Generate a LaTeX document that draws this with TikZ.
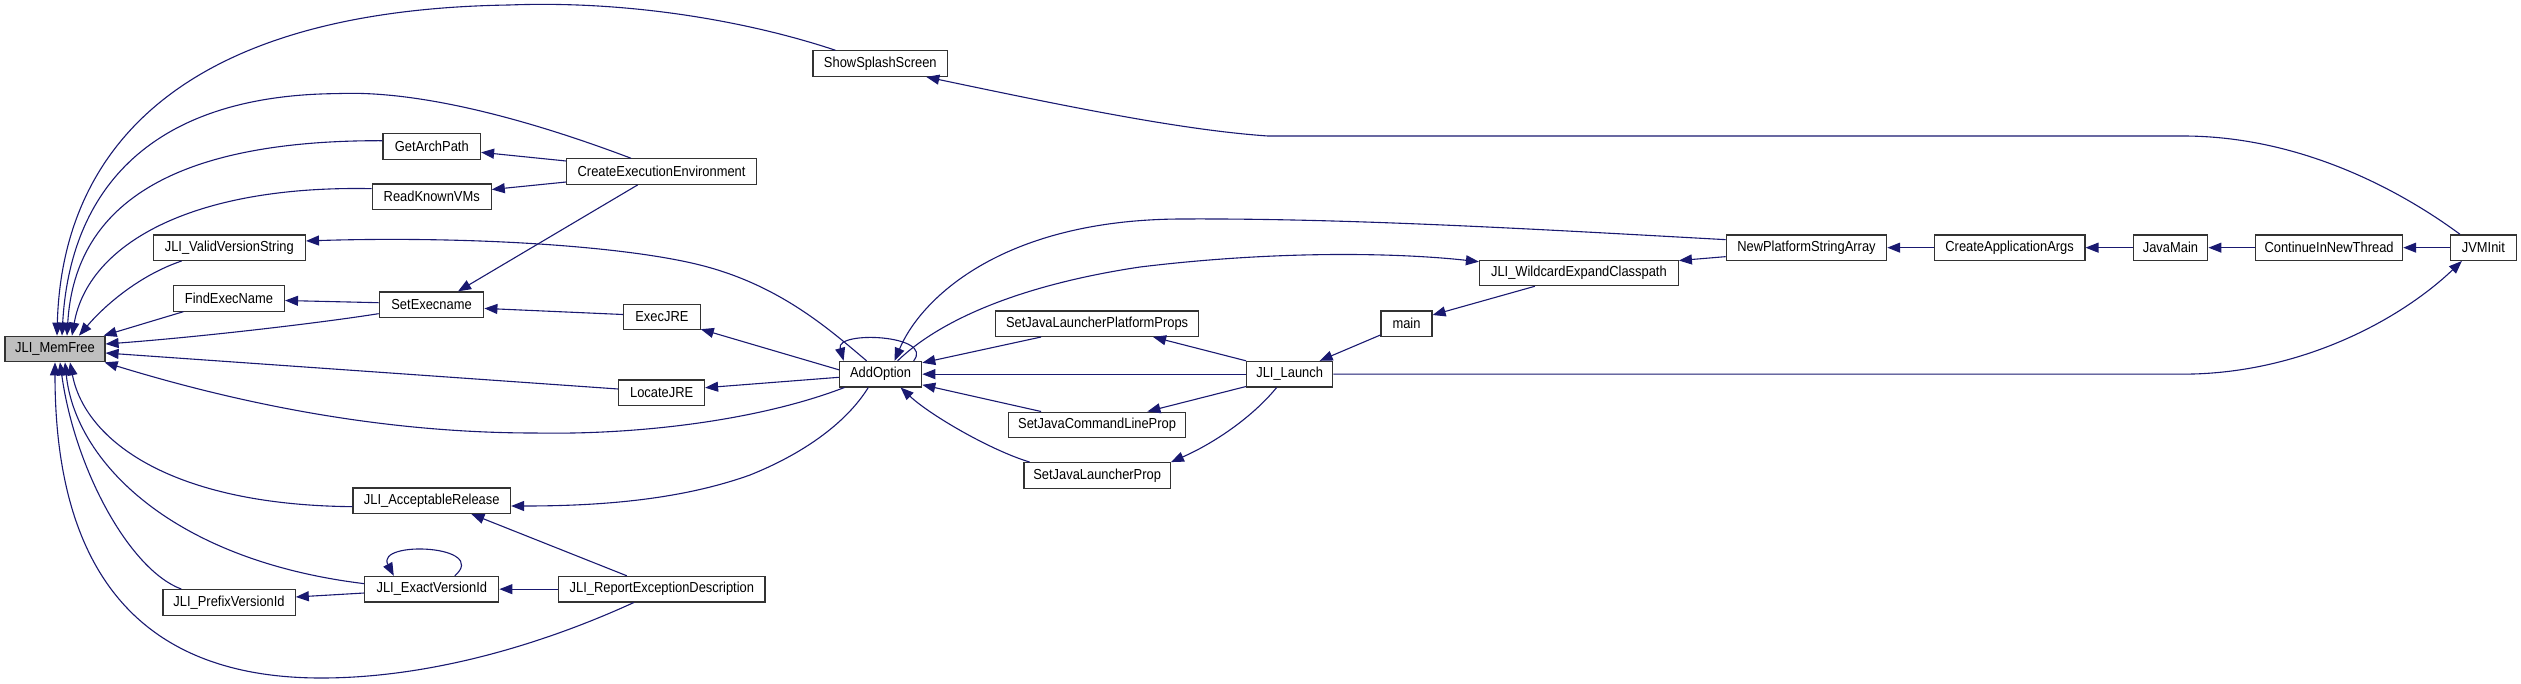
\documentclass[tikz,border=0pt]{standalone}
\usepackage{fontspec}
\usetikzlibrary{arrows.meta}
\newfontfamily\lsans[FakeStretch=0.89]{Liberation Sans}
\definecolor{edgeblue}{HTML}{191970}
\definecolor{rootgray}{HTML}{BFBFBF}
\tikzset{
  fn/.style={draw=black!80, line width=1.2pt, fill=white, minimum height=25.5pt, inner sep=0pt,
    font={\lsans\fontsize{14.5}{16}\selectfont}},
  call/.style={draw=edgeblue, line width=1.1pt, -{Triangle[length=13pt,width=10pt]}},
}
\begin{document}
\begin{tikzpicture}[x=1pt,y=-1pt]
\useasboundingbox (0,0) rectangle (2521,683);
% nodes
\node[fn, fill=rootgray, minimum width=100pt] (mf) at (55,349) {JLI\_MemFree};
\node[fn, minimum width=134.6pt] (sss) at (880.3,63.6) {ShowSplashScreen};
\node[fn, minimum width=97.5pt] (gap) at (431.75,146.35) {GetArchPath};
\node[fn, minimum width=189.6pt] (cee) at (661.6,171.6) {CreateExecutionEnvironment};
\node[fn, minimum width=118.9pt] (rkv) at (431.75,196.65) {ReadKnownVMs};
\node[fn, minimum width=152.2pt] (jvvs) at (229.3,247.65) {JLI\_ValidVersionString};
\node[fn, minimum width=110.9pt] (fen) at (229,298.35) {FindExecName};
\node[fn, minimum width=104.5pt] (sen) at (431.55,304.65) {SetExecname};
\node[fn, minimum width=76.6pt] (ejre) at (661.9,316.85) {ExecJRE};
\node[fn, minimum width=85.7pt] (ljre) at (661.65,392.65) {LocateJRE};
\node[fn, minimum width=157.5pt] (jar) at (431.75,500.65) {JLI\_AcceptableRelease};
\node[fn, minimum width=134pt] (jevi) at (431.8,589.15) {JLI\_ExactVersionId};
\node[fn, minimum width=206.3pt] (jred) at (661.85,589.15) {JLI\_ReportExceptionDescription};
\node[fn, minimum width=132.3pt] (jpvi) at (229.05,602.4) {JLI\_PrefixVersionId};
\node[fn, minimum width=82.2pt] (ao) at (880.6,374.15) {AddOption};
\node[fn, minimum width=202.6pt] (sjlpp) at (1097.1,323.65) {SetJavaLauncherPlatformProps};
\node[fn, minimum width=198.8pt] (jwec) at (1578.9,272.9) {JLI\_WildcardExpandClasspath};
\node[fn, minimum width=51pt] (main) at (1406.5,323.65) {main};
\node[fn, minimum width=86.1pt] (jl) at (1289.65,374.15) {JLI\_Launch};
\node[fn, minimum width=177.4pt] (sjclp) at (1097.1,424.85) {SetJavaCommandLineProp};
\node[fn, minimum width=146.3pt] (sjlp) at (1097.15,475.45) {SetJavaLauncherProp};
\node[fn, minimum width=160.3pt] (npsa) at (1806.45,247.65) {NewPlatformStringArray};
\node[fn, minimum width=150.6pt] (caa) at (2009.6,247.65) {CreateApplicationArgs};
\node[fn, minimum width=74.7pt] (jm) at (2170.45,247.65) {JavaMain};
\node[fn, minimum width=147.1pt] (cint) at (2329.05,247.65) {ContinueInNewThread};
\node[fn, minimum width=66.1pt] (jvm) at (2483.35,247.65) {JVMInit};
% edges to JLI_MemFree
\draw[call] ([xshift=23pt]sss.north west) .. controls (760,25) and (640,0) .. (509,5)
  .. controls (180,10) and (62,150) .. ([xshift=2pt]mf.north);
\draw[call] ([xshift=-30.6pt]cee.north) .. controls (530,120) and (420,90) .. (337.5,93.6)
  .. controls (150,95) and (70,190) .. ([xshift=7pt]mf.north);
\draw[call] ([yshift=5.65pt]gap.west) .. controls (180,140) and (75,200) .. ([xshift=12pt]mf.north);
\draw[call] ([yshift=8pt]rkv.west) .. controls (190,185) and (88,245) .. ([xshift=17pt]mf.north);
\draw[call] ([xshift=29pt]jvvs.south west) .. controls (140,275) and (105,305) .. ([xshift=24pt]mf.north);
\draw[call] ([xshift=10.4pt]fen.south west) -- ([xshift=-2pt]mf.north east);
\draw[call] ([yshift=-9pt]sen.west) .. controls (320,323) and (200,337) .. ([yshift=5pt]mf.east);
\draw[call] ([yshift=3.65pt]ljre.west) -- ([yshift=-4pt]mf.east);
\draw[call] ([xshift=5.5pt]ao.south west) .. controls (760,420) and (640,435) .. (535,433)
  .. controls (400,433) and (260,410) .. ([xshift=-1pt]mf.south east);
\draw[call] ([yshift=-6pt]jar.west) .. controls (170,505) and (85,440) .. ([xshift=15pt]mf.south);
\draw[call] ([yshift=5.5pt]jevi.west) .. controls (170,560) and (75,460) .. ([xshift=10pt]mf.south);
\draw[call] ([xshift=19pt]jpvi.north west) .. controls (130,570) and (75,470) .. ([xshift=5pt]mf.south);
\draw[call] ([xshift=-28pt]jred.south) .. controls (530,650) and (420,678) .. (321,678)
  .. controls (130,678) and (55,560) .. (mf.south);
% left cluster
\draw[call] ([yshift=10.6pt]cee.west) -- ([yshift=-6pt]gap.east);
\draw[call] ([yshift=-10.4pt]cee.west) -- ([yshift=7.15pt]rkv.east);
\draw[call] ([xshift=-24pt]cee.south) -- ([xshift=26.5pt]sen.north);
\draw[call] ([yshift=1.95pt]sen.west) -- ([yshift=-2.15pt]fen.east);
\draw[call] ([yshift=2.35pt]ejre.west) -- ([yshift=-3.75pt]sen.east);
\draw[call] ([yshift=-9pt]ao.north west) -- ([yshift=1pt]ejre.south east);
\draw[call] ([yshift=-3.15pt]ao.west) -- ([yshift=4.95pt]ljre.east);
\draw[call] ([xshift=-14pt]ao.north) .. controls (830,330) and (780,285) .. (700,265)
  .. controls (620,245) and (460,236) .. ([yshift=6.7pt]jvvs.east);
\draw[call] ([xshift=-12.3pt]ao.south) .. controls (845,425) and (800,455) .. (750,475)
  .. controls (680,500) and (600,506) .. ([yshift=-5.35pt]jar.east);
\draw[call] ([xshift=-35pt]jred.north) -- ([xshift=39.6pt]jar.south);
\draw[call] (jred.west) -- (jevi.east);
\draw[call] ([xshift=23pt]jevi.north) .. controls (490,545) and (375,540) .. ([xshift=-38pt]jevi.north);
\draw[call] ([yshift=-3.85pt]jevi.west) -- ([yshift=5.4pt]jpvi.east);
% AddOption cluster
\draw[call] ([xshift=33pt]ao.north) .. controls (935,335) and (835,330) .. ([xshift=-37pt]ao.north);
\draw[call] ([yshift=8pt]npsa.west) .. controls (1550,230) and (1350,218) .. (1180,219)
  .. controls (1000,220) and (920,300) .. ([xshift=14pt]ao.north);
\draw[call] ([xshift=17pt]ao.north) .. controls (940,320) and (1020,285) .. (1140,267)
  .. controls (1280,250) and (1400,253) .. ([yshift=11.2pt]jwec.west);
\draw[call] ([xshift=-44pt]jwec.south) -- ([yshift=8.65pt]main.east);
\draw[call] ([yshift=2pt]main.south west) -- ([xshift=30pt]jl.north);
\draw[call] (jl.north west) -- ([xshift=56pt]sjlpp.south);
\draw[call] (jl.west) -- (ao.east);
\draw[call] ([yshift=1pt]jl.south west) -- ([xshift=50.3pt]sjclp.north);
\draw[call] ([xshift=-13pt]jl.south) .. controls (1250,420) and (1210,445) .. (sjlp.north east);
\draw[call] ([xshift=-56pt]sjlpp.south) -- ([yshift=-2pt]ao.north east);
\draw[call] ([xshift=-56pt]sjclp.north) -- ([yshift=2.7pt]ao.south east);
\draw[call] ([xshift=-67.4pt]sjlp.north) .. controls (990,450) and (930,415) .. ([xshift=20pt]ao.south);
% right chain
\draw[call] (jl.east) -- (2183,374.15) .. controls (2300,374) and (2400,320) .. ([xshift=-21.5pt]jvm.south);
\draw[call] ([xshift=-23.35pt]jvm.north) .. controls (2400,190) and (2300,136) .. (2183,136)
  -- (1268,136) .. controls (1180,130) and (1060,105) .. ([xshift=46pt]sss.south);
\draw[call] (jvm.west) -- (cint.east);
\draw[call] (cint.west) -- (jm.east);
\draw[call] (jm.west) -- (caa.east);
\draw[call] (caa.west) -- (npsa.east);
\draw[call] ([yshift=-9pt]npsa.west) -- ([yshift=-1pt]jwec.north east);
\end{tikzpicture}
\end{document}
